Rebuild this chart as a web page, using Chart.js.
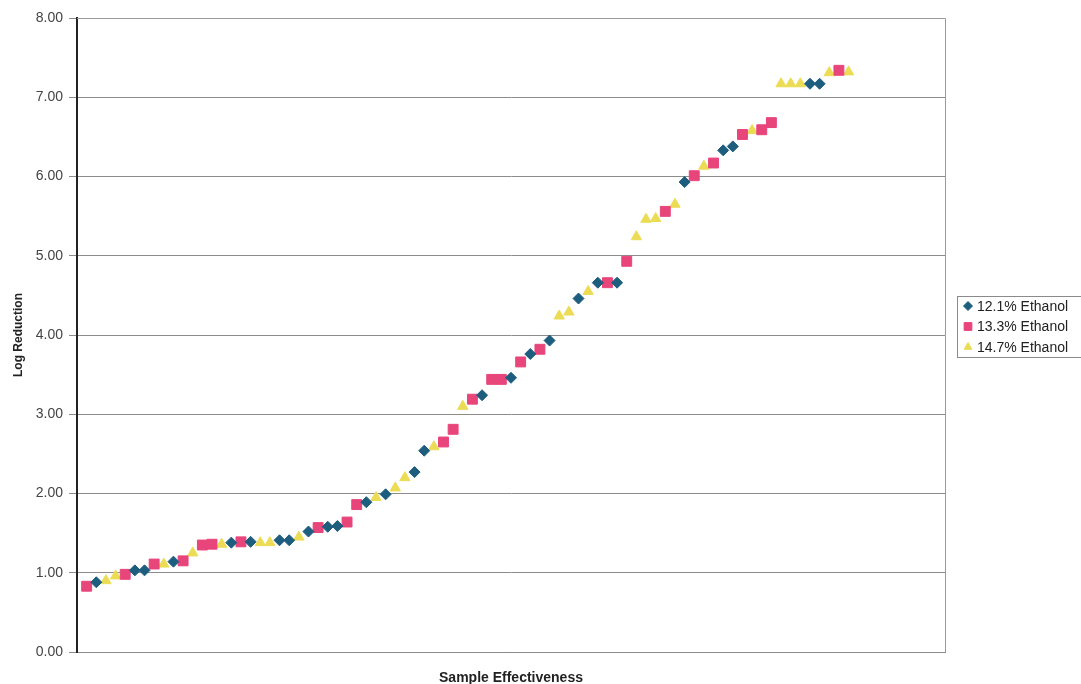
<!DOCTYPE html>
<html>
<head>
<meta charset="utf-8">
<script src="https://cdn.jsdelivr.net/npm/chart.js@4.4.1/dist/chart.umd.min.js"></script>
<style>
  html, body { margin: 0; padding: 0; background: #fff; }
  #wrap { width: 1081px; height: 684px; position: relative; }
</style>
</head>
<body>
<div id="wrap"><canvas id="myChart" width="1081" height="684"></canvas></div>
<script>
// series names
const seriesNames = ['12.1% Ethanol', '13.3% Ethanol', '14.7% Ethanol'];

// log reduction of each sample, sorted (sample 1..80)
const logReduction = [
  0.83, 0.88, 0.90, 0.96, 0.98, 1.03, 1.03, 1.11, 1.11, 1.14,
  1.15, 1.25, 1.35, 1.36, 1.36, 1.38, 1.39, 1.39, 1.38, 1.38,
  1.41, 1.41, 1.45, 1.52, 1.57, 1.58, 1.59, 1.64, 1.86, 1.89,
  1.95, 1.99, 2.07, 2.20, 2.27, 2.54, 2.59, 2.65, 2.81, 3.10,
  3.19, 3.24, 3.44, 3.44, 3.46, 3.66, 3.76, 3.82, 3.93, 4.24,
  4.29, 4.46, 4.55, 4.66, 4.66, 4.66, 4.93, 5.24, 5.46, 5.47,
  5.56, 5.65, 5.93, 6.01, 6.13, 6.17, 6.33, 6.38, 6.53, 6.58,
  6.59, 6.68, 7.17, 7.17, 7.17, 7.17, 7.17, 7.31, 7.34, 7.32
];

// which series each sample belongs to (0 = 12.1%, 1 = 13.3%, 2 = 14.7%)
const sampleSeries = [
  1, 0, 2, 2, 1, 0, 0, 1, 2, 0,
  1, 2, 1, 1, 2, 0, 1, 0, 2, 2,
  0, 0, 2, 0, 1, 0, 0, 1, 1, 0,
  2, 0, 2, 2, 0, 0, 2, 1, 1, 2,
  1, 0, 1, 1, 0, 1, 0, 1, 0, 2,
  2, 0, 2, 0, 1, 0, 1, 2, 2, 2,
  1, 2, 0, 1, 2, 1, 0, 0, 1, 2,
  1, 1, 2, 2, 2, 0, 0, 2, 1, 2
];

const yTicks = [0, 1, 2, 3, 4, 5, 6, 7, 8];

const colors = ['#1d5d7e', '#e8457b', '#ecdc55'];
const shapes = ['rectRot', 'rect', 'triangle'];
const radii = [5.5, 7, 6];

const datasets = seriesNames.map((name, s) => ({
  label: name,
  data: logReduction
    .map((v, i) => ({ x: i + 1, y: v, s: sampleSeries[i] }))
    .filter(p => p.s === s),
  pointStyle: shapes[s],
  pointRadius: radii[s],
  pointHoverRadius: radii[s],
  backgroundColor: colors[s],
  borderColor: colors[s],
  borderWidth: 1,
  showLine: false
}));

// frame round the plot and the legend box on the right
const frameAndLegend = {
  id: 'frameAndLegend',
  beforeDatasetsDraw(chart) {
    const { ctx, chartArea: a } = chart;
    ctx.save();
    ctx.strokeStyle = '#9a9a9a';
    ctx.lineWidth = 1;
    ctx.beginPath();
    ctx.moveTo(a.left, a.top + 0.5);
    ctx.lineTo(a.right + 0.5, a.top + 0.5);
    ctx.lineTo(a.right + 0.5, a.bottom);
    ctx.stroke();
    ctx.restore();
  },
  afterDraw(chart) {
    const { ctx } = chart;
    ctx.save();
    ctx.strokeStyle = '#8a8a8a';
    ctx.lineWidth = 1;
    ctx.strokeRect(957.5, 296.5, 140, 61);
    ctx.font = '14px "Liberation Sans", Arial, sans-serif';
    ctx.textBaseline = 'middle';
    chart.data.datasets.forEach((ds, i) => {
      const y = 306 + i * 20.5;
      ctx.fillStyle = ds.backgroundColor;
      ctx.strokeStyle = ds.borderColor;
      Chart.helpers.drawPoint(ctx, {
        pointStyle: ds.pointStyle,
        radius: i === 1 ? 5.5 : 4.5,
        borderWidth: 1
      }, 968, y);
      ctx.fillStyle = '#222';
      ctx.fillText(ds.label, 977, y + 1);
    });
    ctx.restore();
  }
};

const ctx = document.getElementById('myChart');

const myChart = new Chart(ctx, {
  type: 'scatter',
  data: { datasets },
  options: {
    responsive: false,
    animation: false,
    events: [],
    layout: { padding: { top: 18, right: 136, bottom: 0, left: 0 } },
    plugins: {
      legend: { display: false },
      tooltip: { enabled: false }
    },
    scales: {
      x: {
        type: 'linear',
        min: 0,
        max: 90,
        ticks: { display: false },
        grid: { display: false, drawTicks: false },
        border: { color: '#8a8a8a', width: 1 },
        title: {
          display: true,
          text: 'Sample Effectiveness',
          color: '#222',
          font: { family: '"Liberation Sans", Arial, sans-serif', size: 14, weight: 'bold' },
          padding: { top: 18, bottom: -3 }
        },
        afterFit(scale) { scale.height = 32; }
      },
      y: {
        min: 0,
        max: 8,
        afterBuildTicks(scale) { scale.ticks = yTicks.map(v => ({ value: v })); },
        ticks: {
          color: '#444',
          padding: 6,
          font: { family: '"Liberation Sans", Arial, sans-serif', size: 14 },
          callback: v => Number(v).toFixed(2)
        },
        grid: { color: '#8c8c8c', lineWidth: 1, tickLength: 8, drawTicks: true },
        border: { color: '#222', width: 2 },
        title: {
          display: true,
          text: 'Log Reduction',
          color: '#222',
          font: { family: '"Liberation Sans", Arial, sans-serif', size: 12, weight: 'bold' },
          padding: { top: 11, bottom: 0 }
        },
        afterFit(scale) { scale.width = 77; }
      }
    }
  },
  plugins: [frameAndLegend]
});
</script>
</body>
</html>
